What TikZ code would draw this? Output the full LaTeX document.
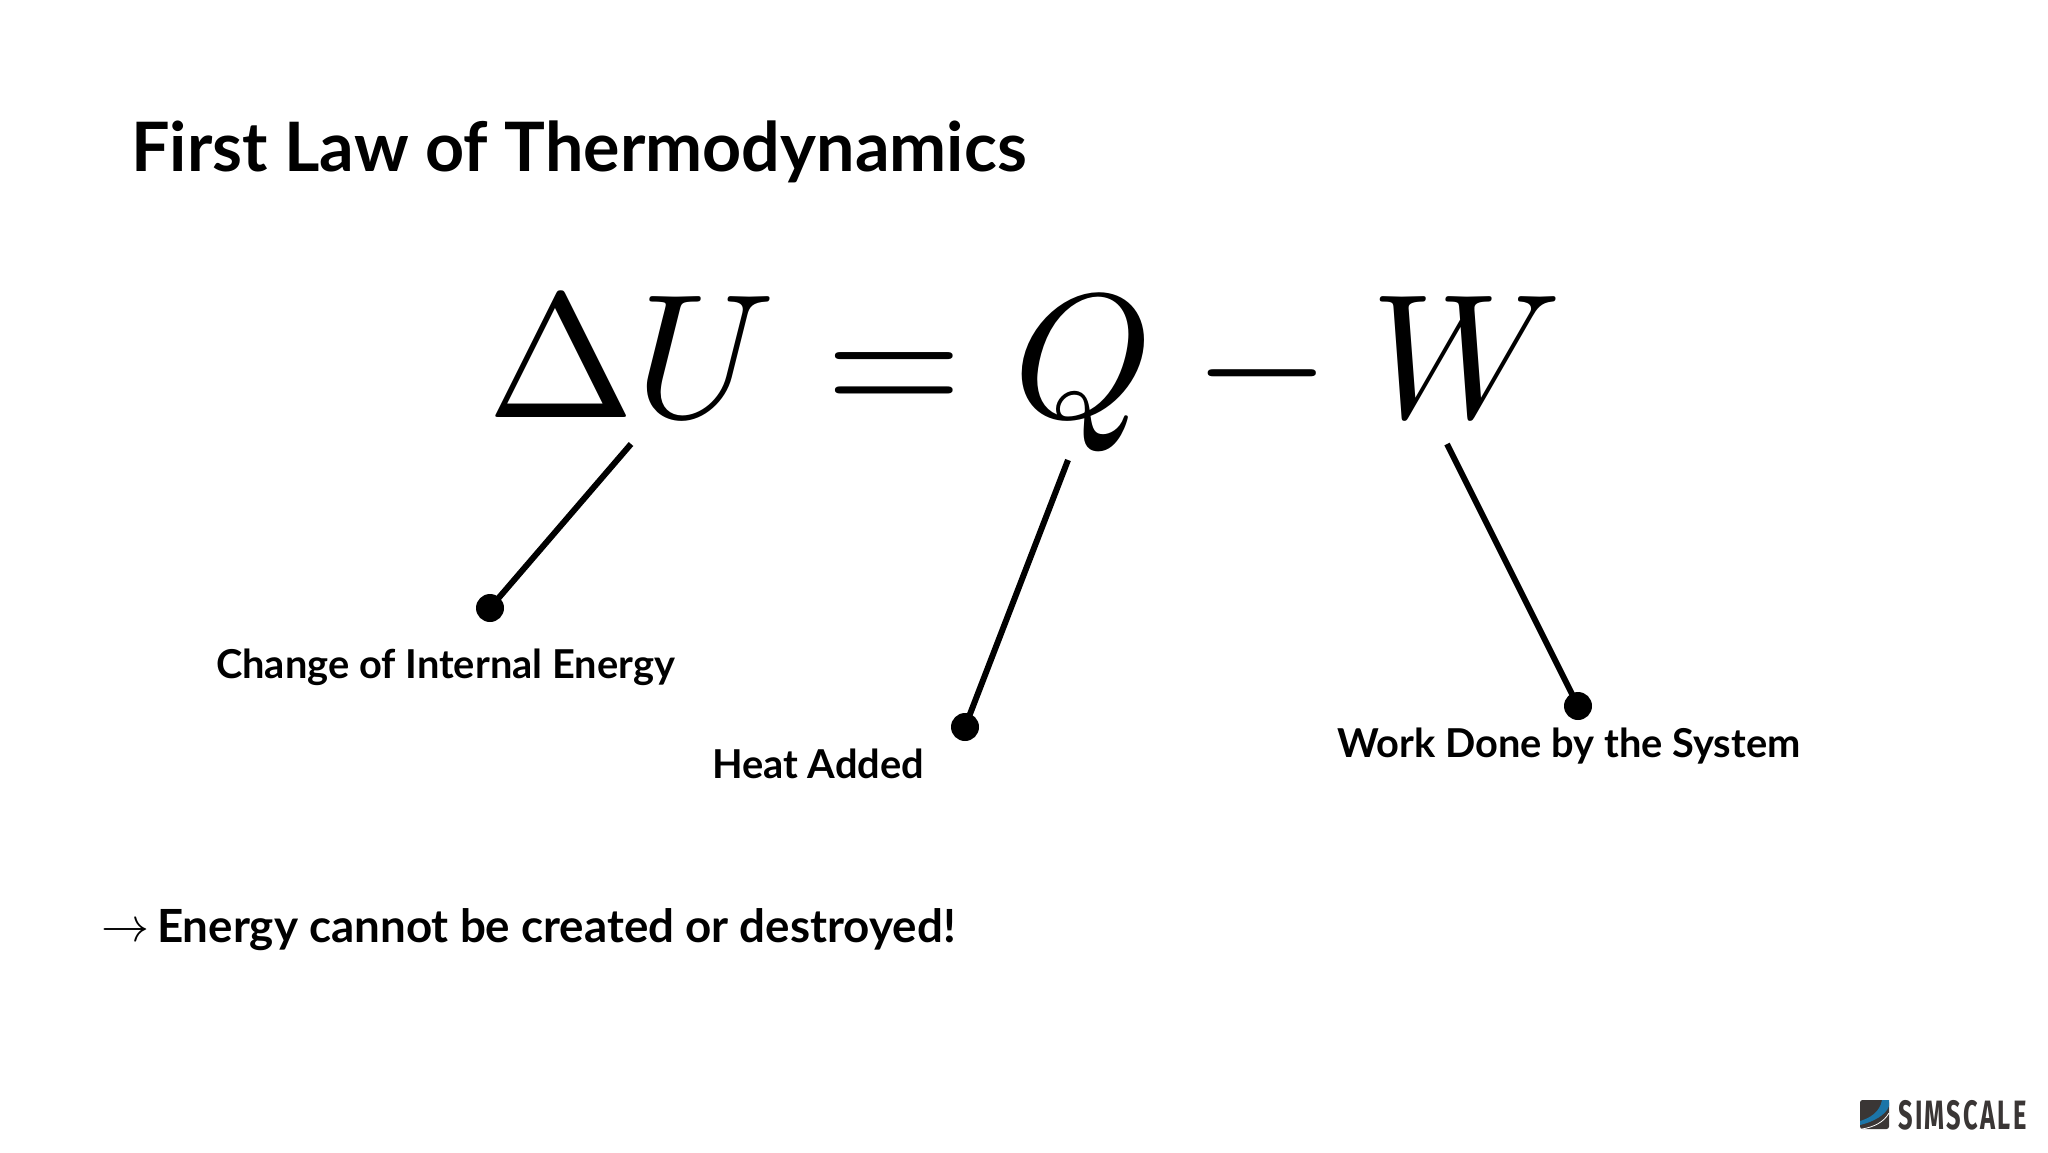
\documentclass[tikz,border=0pt]{standalone}
\usepackage{fontspec}
\setmainfont{Lato}
\newfontfamily\logofont[LetterSpace=9]{Fira Sans}
\definecolor{logodark}{HTML}{3A3635}
\definecolor{logoblue}{HTML}{1B75A8}
\newcommand{\bigglyph}[1]{\scalebox{17.7}{$#1$}}
\tikzset{
  glyph/.style={inner sep=0pt,anchor=base},
  label/.style={inner sep=0pt,anchor=base west,text=black,font=\fontsize{39.8}{48}\selectfont\bfseries},
  pin/.style={circle,fill=black,inner sep=0pt,minimum size=28pt},
  leader/.style={draw=black,line width=6pt}
}
\begin{document}
\begin{tikzpicture}[x=1pt,y=-1pt]
\useasboundingbox[fill=white] (0,0) rectangle (2048,1152);
\node[inner sep=0pt,anchor=base west,font=\fontsize{68.2}{72}\selectfont\bfseries] (title) at (131,171.5) {First Law of Thermodynamics};
\node[glyph] (delta) at (561,417) {\bigglyph{\Delta}};
\node[glyph] (u) at (706,417) {\bigglyph{U}};
\node[glyph] (eq) at (894,417) {\bigglyph{=}};
\node[glyph] (q) at (1083,417) {\bigglyph{Q}};
\node[glyph] (minus) at (1262,417) {\bigglyph{-}};
\node[glyph] (w) at (1466,417) {\bigglyph{W}};
\coordinate (ta) at (631,444);
\coordinate (tb) at (1068,460);
\coordinate (tc) at (1447,444);
\node[pin] (pa) at (490,608) {};
\node[pin] (pb) at (965,727) {};
\node[pin] (pc) at (1578,706) {};
\draw[leader] (ta) -- (pa.center);
\draw[leader] (tb) -- (pb.center);
\draw[leader] (tc) -- (pc.center);
\node[label] (la) at (216,678) {Change of Internal Energy};
\node[label] (lb) at (712,778) {Heat Added};
\node[label] (lc) at (1337,757) {Work Done by the System};
\node[inner sep=0pt,anchor=base west] (arr) at (101,941) {\scalebox{4.8}{$\rightarrow$}};
\node[inner sep=0pt,anchor=base west,font=\fontsize{45.7}{52}\selectfont\bfseries] (note) at (157,942) {Energy cannot be created or destroyed!};
% logo
\fill[logodark,rounded corners=2.5pt] (1860,1100) rectangle (1889,1129);
\fill[logoblue] (1882,1100) .. controls (1880,1112) and (1870,1118) .. (1860,1121) -- (1860,1125) .. controls (1873,1122) and (1886,1115) .. (1889,1106) -- (1889,1100) -- cycle;
\draw[white,line width=.8pt] (1862,1129) .. controls (1874,1127) and (1884,1122) .. (1889,1113);
\node[inner sep=0pt,anchor=base west,text=logodark] (logo) at (1898,1129) {\scalebox{.62}[1]{\logofont\fontsize{41}{41}\selectfont\bfseries SIMSCALE}};
\end{tikzpicture}
\end{document}
